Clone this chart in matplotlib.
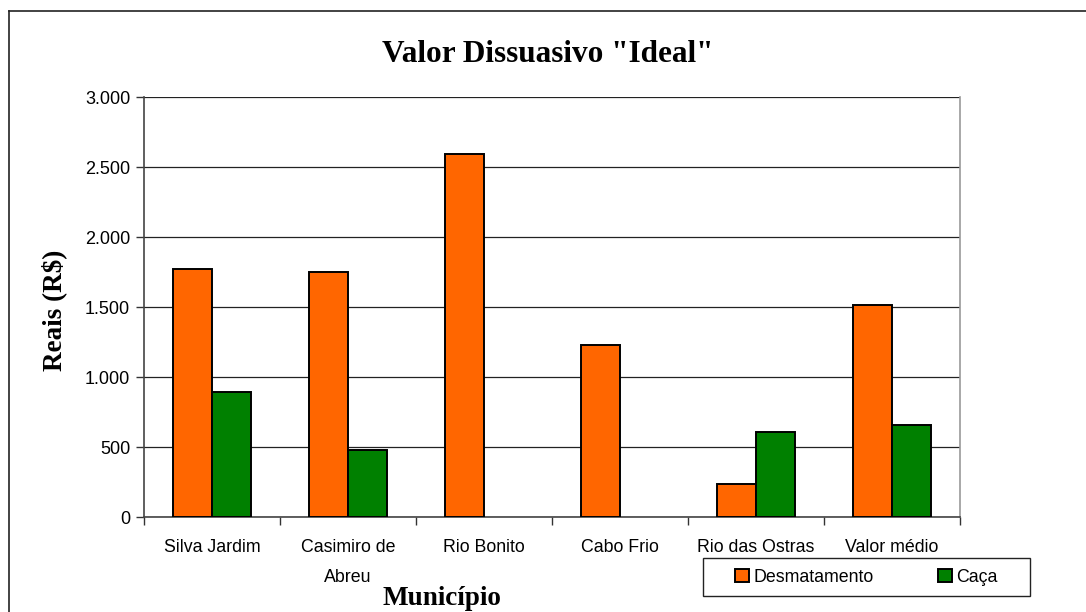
import matplotlib
matplotlib.use('Agg')
import matplotlib.pyplot as plt
from matplotlib.lines import Line2D
from matplotlib.patches import Rectangle, Patch
from matplotlib.ticker import FuncFormatter
import numpy as np

# Dados
municipios = ['Silva Jardim', 'Casimiro de\nAbreu', 'Rio Bonito', 'Cabo Frio',
              'Rio das Ostras', 'Valor médio']
desmatamento = [1770, 1750, 2590, 1230, 233, 1515]
caca = [890, 480, 0, 0, 605, 658]
yticks = [0, 500, 1000, 1500, 2000, 2500, 3000]

COR_DESM = '#FF6600'
COR_CACA = '#008000'

W, H = 1086, 612
fig = plt.figure(figsize=(W / 100, H / 100), dpi=100)
ax = fig.add_axes([144 / W, 1 - 517 / H, (960 - 144) / W, (517 - 97) / H])

x = np.arange(len(municipios))
bw = 0.285
# barras com valor zero ficam sem contorno
ed_d = ['black' if v > 0 else 'none' for v in desmatamento]
ed_c = ['black' if v > 0 else 'none' for v in caca]
ax.bar(x - bw / 2, desmatamento, bw, color=COR_DESM, edgecolor=ed_d, linewidth=1.4, zorder=3)
ax.bar(x + bw / 2, caca, bw, color=COR_CACA, edgecolor=ed_c, linewidth=1.4, zorder=3)

ax.set_xlim(-0.5, len(municipios) - 0.5)
ax.set_ylim(0, 3000)
ax.set_yticks(yticks)
ax.yaxis.set_major_formatter(FuncFormatter(lambda v, p: f'{int(v):,}'.replace(',', '.')))
ax.grid(axis='y', color='#222222', linewidth=0.9, zorder=0)

# ticks do eixo x nas divisas entre categorias, rótulos no centro
ax.set_xticks(np.arange(len(municipios) + 1) - 0.5)
ax.set_xticklabels([])
ax.set_xticks(x, minor=True)
ax.set_xticklabels(municipios, minor=True, fontsize=12.8, family='Liberation Sans',
                   linespacing=1.95)
ax.tick_params(axis='x', which='minor', length=0, pad=16)
ax.tick_params(axis='x', which='major', direction='out', length=6, width=1, color='#333333')
ax.tick_params(axis='y', direction='out', length=6, width=1, color='#333333', pad=4,
               labelsize=13)
ax.tick_params(top=False, right=False)
for lbl in ax.get_yticklabels():
    lbl.set_family('Liberation Sans')

for s in ['left', 'bottom']:
    ax.spines[s].set_color('#444444')
    ax.spines[s].set_linewidth(1.2)
ax.spines['right'].set_color('#999999')
ax.spines['right'].set_linewidth(1.2)
ax.spines['top'].set_visible(False)

# textos
fig.text(548 / W, 1 - 62 / H, 'Valor Dissuasivo "Ideal"', ha='center', va='baseline',
         fontsize=22.5, fontweight='bold', family='Liberation Serif')
fig.text(54 / W, 1 - 310 / H, 'Reais (R$)', ha='center', va='center', rotation=90,
         fontsize=19.5, fontweight='bold', family='Liberation Serif')
fig.text(442 / W, 1 - 605 / H, 'Município', ha='center', va='baseline',
         fontsize=19.5, fontweight='bold', family='Liberation Serif')

# legenda com moldura própria
fig.add_artist(Rectangle((703 / W, 1 - 596 / H), 327 / W, 38 / H, transform=fig.transFigure,
                         facecolor='white', edgecolor='#222222', linewidth=1.0))
handles = [Patch(facecolor=COR_DESM, edgecolor='black', linewidth=1.4, label='Desmatamento'),
           Patch(facecolor=COR_CACA, edgecolor='black', linewidth=1.4, label='Caça')]
fig.legend(handles=handles, loc='center', bbox_to_anchor=(866.5 / W, 1 - 577 / H),
           ncol=2, frameon=False, handlelength=0.8, handleheight=0.8, handletextpad=0.25,
           columnspacing=3.6, prop={'family': 'Liberation Sans', 'size': 12.8})

# moldura externa do gráfico
fig.add_artist(Line2D([9 / W, 9 / W], [0, 1 - 11 / H], transform=fig.transFigure,
                      color='#222222', linewidth=1.2))
fig.add_artist(Line2D([9 / W, 1], [1 - 11 / H, 1 - 11 / H], transform=fig.transFigure,
                      color='#222222', linewidth=1.2))

fig.savefig('out.png', dpi=100)
